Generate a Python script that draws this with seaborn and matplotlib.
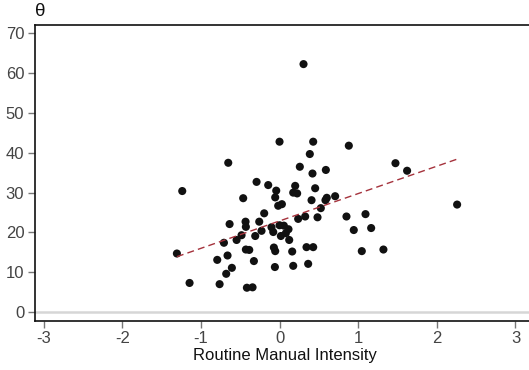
import matplotlib
matplotlib.use("Agg")
import matplotlib.pyplot as plt
import seaborn as sns
import numpy as np
import pandas as pd

intensity = [0.305, 0.0, 0.428, 0.881, 0.385, -0.652, 1.474, 0.258, 1.622, 0.589,
             0.419, -0.292, -0.144, 0.199, -1.237, -0.042, 0.453, 0.174, 0.224, 0.707,
             -0.055, 0.601, -0.462, 0.584, 0.407, 0.030, -0.017, 2.258, 0.525, 1.093,
             -0.195, 0.851, 0.326, 0.483, 0.237, -0.432, -0.258, -0.635, -0.428, -0.102,
             0.0, 0.055, 0.114, 0.944, 1.165, -0.229, -0.080, 0.080, -0.483, -0.309,
             0.017, -0.546, 0.123, -0.707, -1.305, -0.072, -0.428, -0.385, -0.055, 0.161,
             0.343, 0.428, 1.046, 1.321, -0.661, -0.792, -0.326, 0.364, -0.606, -0.059,
             0.174, -0.678, -1.144, -0.762, -0.415, -0.343]
theta = [62.3, 42.8, 42.8, 41.8, 39.7, 37.5, 37.4, 36.5, 35.5, 35.7,
         34.8, 32.7, 31.9, 31.7, 30.4, 30.5, 31.1, 30.0, 29.8, 29.1,
         28.8, 28.7, 28.6, 28.1, 28.1, 27.1, 26.7, 27.0, 26.1, 24.6,
         24.8, 24.0, 24.0, 23.8, 23.4, 22.7, 22.7, 22.1, 21.4, 21.3,
         21.8, 21.7, 20.8, 20.6, 21.1, 20.4, 20.1, 19.8, 19.3, 19.1,
         19.1, 18.1, 18.1, 17.4, 14.7, 16.2, 15.7, 15.6, 15.3, 15.2,
         16.3, 16.3, 15.3, 15.7, 14.2, 13.1, 12.8, 12.1, 11.1, 11.3,
         11.6, 9.6, 7.3, 7.0, 6.1, 6.2]

# fitted line (endpoints)
fit_x = [-1.305, 2.27]
fit_y = [13.9, 38.5]

x_ticks = [-3, -2, -1, 0, 1, 2, 3]
y_ticks = [0, 10, 20, 30, 40, 50, 60, 70]

df = pd.DataFrame({"x": intensity, "y": theta})
fit_df = pd.DataFrame({"x": fit_x, "y": fit_y})

sns.set_style("white")
plt.rcParams["font.family"] = ["Liberation Sans", "DejaVu Sans"]

fig = plt.figure(figsize=(5.29, 3.70), dpi=100)
ax = fig.add_axes([0.0656, 0.1332, 0.946, 0.80])

ax.axhline(0, color="#d6d6d6", lw=1.8, zorder=0)
sns.scatterplot(data=df, x="x", y="y", ax=ax, color="#111111", s=34,
                edgecolor="none", zorder=3)
sns.lineplot(data=fit_df, x="x", y="y", ax=ax, color="#a5323c", lw=1.0,
             linestyle=(0, (5, 3)), zorder=4)

ax.set_xlim(-3.113, 3.25)
ax.set_ylim(-2.19, 72.2)
ax.set_xticks(x_ticks)
ax.set_xticklabels([str(t) for t in x_ticks])
ax.set_yticks(y_ticks)
ax.set_yticklabels([str(t) for t in y_ticks])
ax.tick_params(axis="both", direction="out", length=5, width=1, color="#777777",
               labelcolor="#444444", labelsize=12, left=True, bottom=True, pad=2.5)
for side in ["left", "bottom", "top", "right"]:
    ax.spines[side].set_color("#111111")
    ax.spines[side].set_linewidth(1.2)
ax.set_xlabel("Routine Manual Intensity", fontsize=12, color="#111111", labelpad=1)
ax.set_ylabel("")
fig.text(0.066, 0.945, "θ", fontsize=13.5, color="#111111", ha="left", va="bottom")

fig.savefig("out.png", dpi=100)
